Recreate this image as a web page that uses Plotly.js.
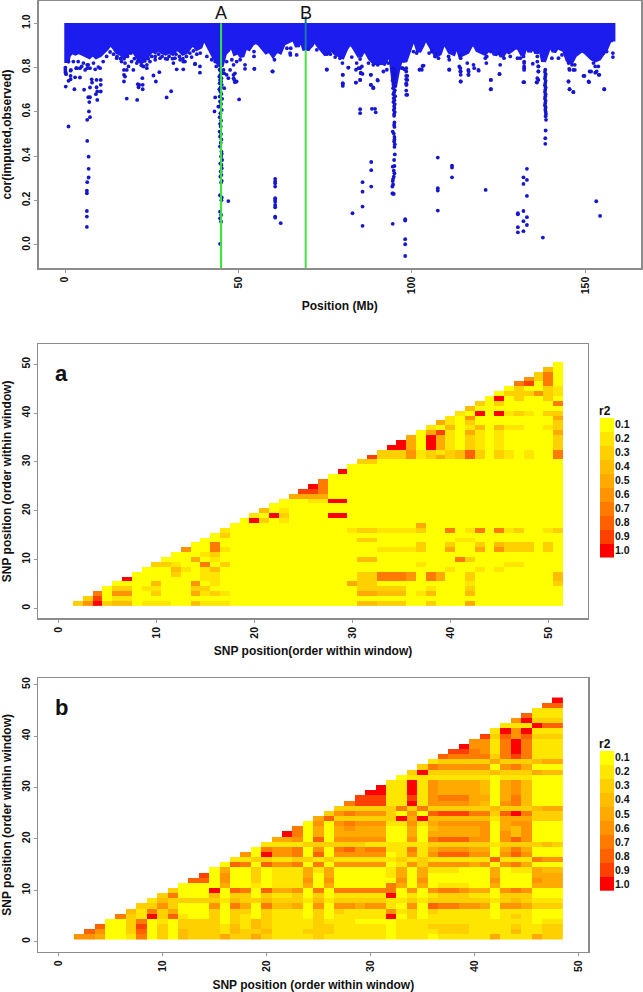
<!DOCTYPE html>
<html><head><meta charset="utf-8"><script src="https://cdn.plot.ly/plotly-3.0.1.min.js"></script>
<style>html,body{margin:0;padding:0;background:#fff}#p{width:643px;height:992px}</style></head><body><div id="p"></div>
<script>
// Top panel: lower edge of the solid blue band, one value per Mb (0..158)
const bandLow=[.82,.857,.872,.865,.872,.865,.857,.85,.865,.85,.857,.872,.887,.91,.895,.872,.865,.85,.865,.895,.872,.85,.827,.842,.865,.88,.872,.887,.872,.865,.872,.865,.887,.88,.865,.872,.895,.91,.887,.895,.94,.91,.872,.85,.827,.805,.865,.88,.91,.865,.872,.85,.895,.887,.91,.917,.91,.887,.872,.88,.857,.88,.872,.91,.917,.925,.932,.895,.94,.887,.887,.902,.932,.902,.887,.865,.872,.887,.865,.857,.85,.887,.91,.902,.872,.85,.88,.872,.842,.827,.82,.827,.82,.85,.85,.714,.797,.85,.827,.865,.917,.925,.872,.902,.94,.91,.88,.857,.865,.91,.902,.872,.865,.91,.857,.865,.872,.902,.91,.88,.872,.865,.88,.91,.857,.88,.85,.88,.872,.887,.895,.887,.857,.917,.872,.902,.865,.902,.827,.872,.91,.872,.895,.887,.88,.835,.827,.857,.872,.88,.872,.857,.842,.835,.842,.865,.887,.925,.925];
const bandStart=.5;
const bandEnd=158;
const bandEndLow=.917;
const bandTop=.99;
// Top panel: speckle just under the band
const fringeX=[1.7,1,2.4,3.8,5.3,6.7,8.2,9.6,11,3.4,4.8,5.8,7.2,8.7,10.1,14.9,16.3,17.3,18.3,19.2,20.7,22.6,23.6,24.5,26,27.4,29.5,31.7,33.2,34.6,36.5,37.5,40.9,42.3,43.6,43.3,46.6,48.1,48.6,49.5,51.9,50.5,47.6,46.6,49,48.6,49.5,.1,.1,.1,
12,13,14,15,16,17,18,19,20,21,22,23,24,25,26,27,28,29,30,31,32,33,34,35,36,37,38,39,
54.5,54.5,54.6,59.9,60.4,64,64.9,65.1,66.8,65,70.2,72.6,75.5,76.5,77.4,77.9,79.3,80,75.5,82.7,84.1,85.1,85.6,81.7,83.9,84.6,85.3,87.5,88.9,90.2,88.2,91.8,92.8,93.2,90.2,85.1,83.9,88.2,88.9,80.1,80.1,97.1,97.9,98.7,98.7,98.5,98.7,102.9,102.2,103.4,101.4,100.5,105,105.8,
106.7,107.7,105.8,107.2,110.6,110.8,110.8,113.9,114.1,113.7,114.1,114.1,114.1,116.4,116.4,116,117.8,118,119.3,121.2,121.5,121.6,122.8,122.8,122.8,125.3,125.5,125.3,126.6,128.4,130.5,131.3,132.2,132.4,132.4,132.4,132.4,134.9,136.2,136.2,136.5,136.5,136.2,136,142.3,140.4,143.3,145.2,146.2,145.5,147,145.2,145.5,146.6,149.8,151,151.7,152.4,152.9,153.8,153.3,153.9,155.5,155.3,156.2,158,158];
const fringeY=[.789,.827,.827,.827,.82,.812,.82,.802,.827,.797,.805,.789,.797,.792,.797,.842,.827,.82,.805,.827,.82,.805,.812,.827,.835,.842,.838,.842,.835,.827,.847,.817,.85,.835,.805,.827,.827,.835,.812,.827,.812,.835,.789,.767,.774,.752,.737,.80,.79,.78,
.85,.87,.86,.85,.84,.84,.85,.865,.84,.83,.81,.83,.84,.85,.85,.86,.85,.84,.85,.84,.86,.85,.84,.85,.865,.875,.86,.865,
.872,.85,.794,.782,.835,.887,.865,.887,.857,.857,.883,.88,.86,.86,.872,.847,.842,.82,.79,.847,.82,.838,.805,.8,.79,.797,.774,.82,.812,.812,.767,.782,.79,.82,.741,.744,.732,.722,.707,.767,.726,.797,.792,.762,.744,.722,.677,.79,.79,.809,.865,.872,.865,.872,
.85,.842,.88,.865,.85,.835,.789,.857,.842,.805,.782,.767,.737,.782,.767,.82,.812,.797,.786,.842,.82,.85,.872,.744,.702,.865,.812,.77,.842,.85,.842,.842,.85,.827,.805,.789,.734,.817,.85,.827,.805,.782,.752,.734,.842,.842,.857,.82,.812,.789,.789,.737,.702,.69,.762,.737,.782,.82,.805,.805,.782,.767,.702,.865,.872,.865,.847];
// Top panel: individual points far below the band
const ptX=[.2,.3,.2,1,1,1.6,1.6,2.9,2.7,4.3,5.5,1.6,3.2,4.3,6.4,6.4,7.7,7.8,7.2,9.1,10.3,10.3,9.1,9.3,10.3,8.9,9.3,6.7,7.2,7,6.9,7.2,6.4,6.4,6.8,6.8,6.8,6.4,6.3,6.3,6.3,6.3,6.3,
17,17.3,17,17,17.8,20.8,21,21.4,22.4,22.4,21.2,22.3,25.5,26.2,27.2,29.3,30.6,32.2,34.1,38.9,38.9,37.5,19.7,23.6,31.25,34.1,17.8,22.6,
44.6,45,45.2,44.8,44.5,45.1,44.7,45,44.6,45.2,44.9,44.5,44.8,45.1,44.6,45.3,44.7,45,44.5,45.2,44.8,44.6,45,44.7,44.9,44.6,45,44.7,45.1,44.9,44.7,45.1,45.2,45,45.3,44.8,45.1,45.2,44.9,45.1,44.8,45.2,45,44.7,45.2,45.1,44.7,45,44.7,45,44.7,
43.3,43.1,44.2,47.1,50.2,48.8,49,51.9,54.6,59.8,45.9,47.1,45.7,45.9,48.6,
60.6,60.6,60.6,60.6,60.6,60.6,60.6,60.6,60.6,60.6,60.6,62.2,
75.5,80.1,80.1,80.1,81.7,83.9,85.1,85.1,85.3,85.8,85.1,85.1,88.2,88.2,88.9,90.1,88.5,89.4,89.6,85.8,85.8,85.8,85.8,82.9,88.3,88.3,88.3,
94.6,95,94.7,95.2,94.8,95.1,94.5,95,94.8,95.2,94.6,95.1,94.9,94.7,95.2,94.8,95,94.7,95.1,94.9,95,94.8,95.1,94.9,
94.9,95,94.9,95,94.5,94.8,95,95,94.9,95.1,95,95.1,94.9,95,94.5,94.8,95,94.8,94.6,94.5,94.6,94.4,94.6,94.4,94.8,
94.5,98.1,98.1,98.1,98.1,98.1,98.4,98.4,98.4,98.4,98.4,98.4,98.4,98.4,97.4,102.4,103.1,
110.8,107.5,107.5,107.5,107.5,111.6,111.6,111.6,121.3,114.1,114,114,116.3,116.3,119.2,122.8,122.8,125.3,
130.6,130.6,130.6,130.6,132.2,132.4,132.4,133.2,132.2,133.2,132.2,133.2,132.2,133.2,132.2,133.2,132.2,137.8,
138.5,138.4,138.6,138.5,138.4,138.6,138.5,138.4,138.6,138.5,138.4,138.6,138.5,138.4,138.6,138.5,138.4,138.6,138.5,138.6,138.7,138.6,138.7,138.6,138.5,138.5,
136.5,136.1,136.5,136.5,145.2,145.5,146.6,145.4,146.6,147,149.5,151.1,151.3,152.9,154.1,155.5,153.2,154.3];
const ptY=[.777,.77,.714,.534,.74,.762,.747,.756,.702,.755,.70,.786,.797,.797,.797,.812,.747,.732,.71,.744,.744,.722,.711,.692,.692,.68,.654,.666,.666,.644,.602,.576,.564,.469,.398,.343,.304,.283,.245,.233,.153,.128,.081,
.767,.759,.737,.789,.66,.654,.725,.722,.722,.702,.711,.752,.764,.737,.779,.665,.693,.792,.792,.805,.777,.815,.789,.797,.82,.827,.789,.805,
.79,.782,.774,.767,.759,.752,.744,.737,.729,.722,.711,.702,.692,.681,.669,.659,.647,.636,.624,.609,.594,.576,.561,.546,.534,.511,.5,.488,.476,.461,.444,.421,.411,.399,.383,.368,.361,.346,.331,.316,.308,.289,.281,.224,.214,.202,.15,.135,.12,.105,.005,
.665,.602,.624,.198,.656,.744,.734,.794,.794,.783,.707,.752,.789,.774,.767,
.298,.286,.278,.263,.211,.203,.195,.18,.17,.128,.123,.098,
.792,.767,.729,.717,.8,.732,.744,.797,.777,.771,.612,.594,.767,.722,.71,.744,.614,.614,.598,.283,.24,.173,.086,.143,.374,.337,.263,
.797,.788,.779,.770,.761,.752,.743,.734,.725,.716,.707,.698,.689,.680,.671,.662,.653,.644,.635,.626,.617,.608,.599,.590,
.582,.552,.541,.532,.511,.502,.487,.476,.466,.454,.442,.408,.383,.356,.353,.335,.323,.308,.297,.288,.273,.263,.232,.232,.23,
.095,.116,.11,.026,.003,-.05,.797,.782,.762,.747,.729,.722,.696,.677,.797,.792,.807,
.792,.394,.256,.245,.155,.358,.349,.305,.248,.737,.797,.782,.767,.789,.789,.744,.702,.771,
.143,.138,.08,.057,.734,.797,.82,.343,.305,.293,.275,.221,.153,.125,.107,.09,.062,.033,
.79,.78,.77,.76,.75,.74,.73,.72,.71,.70,.69,.68,.67,.66,.65,.64,.63,.62,.61,.60,.59,.58,.564,.516,.481,.456,
.744,.732,.805,.782,.737,.702,.689,.794,.789,.812,.762,.734,.782,.777,.767,.702,.197,.131];
// Panel a: non-yellow cells, per row y: x,level,x,level...
const aN=51;
const aRowY=[1,2,3,4,5,6,7,8,9,10,11,12,13,14,15,16,17,18,19,20,22,23,24,25,26,28,30,31,32,33,34,35,36,37,38,39,40,41,42,43,44,45,46,47,48,49];
const aRowCells=[
[2,3,3,6,4,10,5,3,6,4,7,4,9,2,10,2,11,2,14,4,15,2,16,2,17,2,31,4,32,4,33,3,34,3,35,3,38,3,42,5],
[3,3,4,9,6,2,7,2],
[4,7,6,6,7,6,10,3,14,5,15,2,16,3,17,2,31,5,32,5,33,4,34,4,35,4,37,2,38,4,42,4],
[6,3,7,3,9,2,10,2,14,3,15,3,31,3,32,3,33,3,34,3,35,3,38,2,42,3],
[10,4,14,6,16,2,30,5,31,3,32,3,42,2,51,3],
[7,10,15,2,16,2,31,3,32,3,33,7,34,7,35,7,36,6,38,7,39,5,42,3,51,4],
[12,3,15,2,16,2,31,3,32,3,33,7,34,7,35,7,36,6,38,7,39,5,42,3,51,4],
[12,4,13,2,15,2,16,4,40,2,43,2,45,2],
[10,3,11,3,12,2,15,7,17,3,37,2,46,2,47,2],
[14,5,16,2,31,4,32,4,41,7,42,3],
[15,2,16,3],
[13,6,16,7,17,2,33,2,34,2,35,2,36,2,37,3,40,5,43,5,45,6,46,3,47,3,48,3,50,3],
[16,7,37,3,40,3,43,3,45,4,46,3,47,3,48,3,50,3],
[31,3,32,3,41,2,42,2],
[17,3],
[17,2,30,2,31,3,32,3,33,2,34,2,35,2,36,2,37,3,40,7,42,2,43,7,45,7,46,2,47,3,50,2,51,3],
[37,5],
[20,10,21,3,23,2],
[20,2,22,10,23,3,28,10,29,10],
[21,4,23,2],
[26,2,27,2,28,10,29,10],
[24,5,25,5,26,5,27,5],
[25,9,26,9,27,7],
[26,10,27,7],
[27,7],
[29,10],
[31,3,32,3],
[32,9,33,3,34,3,35,3,36,6,37,2,38,3,39,5,40,3,41,4,42,8,43,3,45,3,46,2,48,2,51,7],
[33,3,34,3,35,3,36,6,37,2,38,3,39,2,40,3,41,4,42,8,43,3,45,3,46,2,48,2,51,7],
[34,10,35,10,36,5,38,10,39,5,40,2,42,3,43,2,45,2,51,3],
[35,10,36,5,38,10,39,5,40,2,42,3,43,2,45,2,51,3],
[36,5,38,10,39,5,40,2,42,3,43,2,45,2,51,3],
[38,5,39,9,40,2,42,5,43,2,45,2,51,5],
[38,2,40,4,42,2,43,4,45,4,46,2,47,2,50,2,51,3],
[39,5,40,2,42,3,51,3],
[40,2,42,6,51,5],
[41,2,43,10,45,10,46,2,47,3,48,2,50,3,51,3],
[42,4],
[43,3,45,3,51,7],
[45,10,47,3,50,3],
[46,3,47,3,48,3,49,6,50,3,51,2],
[47,3,50,3,51,2],
[47,7,48,9,50,7],
[48,6,49,3,50,7],
[49,3,50,7],
[50,4]];
// Panel b: level per cell; row k (y = k) holds x = k+1 .. 48
const bN=48;
const bRows=[
[6,6,5,1,1,2,7,1, 3,1,4,3,3,3,5,3,3,5, 3,2,2,2,2,3,2,2,2,2, 2,2,1,2,2,2,1,2,2,2, 2,2,5,2,2,2,5,3,3],
[8,6,1,1,3,8,1, 3,1,4,3,3,3,2,4,3,3, 4,2,2,2,3,3,3,2,2,2, 2,2,1,2,2,2,2,3,3,3, 2,2,2,2,4,2,2,3,3],
[8,1,1,3,9,1, 3,1,3,3,3,3,2,4,2,4, 3,2,2,2,2,3,3,2,2,2, 2,2,1,2,2,2,3,3,3,3, 2,2,2,2,3,2,2,3,3],
[1,1,3,7,1, 2,1,3,3,3,3,1,3,2,4, 3,2,2,2,2,3,2,2,2,1, 1,1,1,2,2,2,2,2,2,2, 2,2,2,2,2,2,1,2,2],
[7,3,2,10, 3,8,2,1,1,3,1,3,2,1, 3,2,2,2,1,3,1,2,2,2, 2,2,10,1,3,1,2,2,2,2, 2,2,1,2,3,2,1,1,1],
[4,2,7, 3,5,1,1,1,3,1,3,3,1, 3,2,2,2,1,3,1,3,2,2, 2,2,6,2,3,1,3,2,2,2, 2,2,1,2,2,2,1,1,1],
[3,3, 6,3,1,1,1,6,1,7,5,1, 7,4,4,5,1,6,1,6,6,5, 6,6,2,1,6,1,8,7,7,6, 6,5,1,6,6,5,3,3,3],
[2, 4,3,3,3,3,3,2,4,3,3, 4,3,3,3,2,4,2,3,3,3, 3,3,2,2,3,2,3,3,3,3, 3,3,2,3,4,3,2,2,2],
[3,7,1,1,1,4,1,3,3,1, 3,2,2,3,1,3,1,2,2,2, 2,2,10,1,2,1,2,3,3,3, 2,2,1,3,3,3,1,1,1],
[3,1,1,1,10,1,8,7,1, 8,5,5,6,1,7,1,7,7,7, 7,7,7,1,6,1,6,7,7,6, 5,5,1,6,7,6,1,1,1],
[1,1,1,1,5,1,1,2, 1,2,2,2,5,1,5,1,1,1, 1,1,7,5,1,5,1,2,2,2, 1,1,5,1,1,1,5,5,5],
[8,8,1,6,1,1,3, 1,2,2,2,6,1,6,1,1,1, 1,1,1,6,1,6,1,1,1,1, 1,1,6,1,1,1,6,5,5],
[9,1,6,1,1,3, 1,2,2,2,5,1,5,1,1,1, 1,1,2,5,1,5,1,1,1,1, 1,1,5,1,1,1,5,5,5],
[1,5,1,1,3, 1,2,2,2,5,2,5,1,1,1, 1,1,2,5,1,5,2,2,2,1, 1,1,5,1,2,2,5,4,4],
[1,8,7,1, 8,6,6,7,1,7,1,6,6,6, 6,6,1,2,6,3,6,6,6,6, 5,6,1,6,7,5,1,1,1],
[2,2,3, 3,2,2,3,3,2,3,2,2,2, 2,2,2,3,2,3,2,2,2,2, 2,2,8,2,2,2,7,6,6],
[6,1, 10,6,6,7,1,8,1,6,6,6, 6,6,1,2,6,2,6,8,8,8, 6,6,1,6,8,6,1,1,1],
[1, 7,6,6,7,1,6,1,7,8,6, 7,7,2,2,7,2,5,6,6,6, 5,5,1,5,7,5,1,1,1],
[2,2,2,2,3,3,3,3,3,3, 2,2,2,2,2,2,3,3,3,3, 3,3,2,3,3,3,3,4,3],
[5,5,6,1,8,1,6,6,6, 6,6,1,1,6,1,7,8,8,8, 6,6,1,6,8,6,1,1,1],
[10,7,1,5,1,5,5,5, 5,5,1,1,5,1,5,5,5,5, 5,6,1,6,4,6,1,1,1],
[7,1,5,1,5,6,5, 5,5,1,1,5,1,4,5,5,5, 5,6,1,5,4,6,1,1,1],
[1,6,1,6,7,6, 6,6,2,2,6,2,5,6,6,6, 6,6,1,5,6,6,1,1,1],
[5,8,3,3,3, 3,3,3,10,5,10,4,4,4,4, 4,4,2,5,5,5,3,3,3],
[3,6,7,6, 6,6,3,1,6,1,8,9,9,9, 7,7,3,8,10,7,3,3,3],
[3,3,3, 3,3,3,7,3,7,3,3,3,3, 3,3,4,3,3,3,4,5,5],
[7,9, 9,9,2,2,10,2,6,6,6,6, 5,4,1,6,7,4,1,1,1],
[9, 9,9,2,2,9,2,6,7,7,7, 5,5,1,5,7,4,1,1,1],
[10,10,2,2,10,2,6,5,5,5, 5,4,1,5,6,4,1,1,1],
[10,2,2,10,2,6,5,5,5, 5,4,1,5,6,4,1,1,1],
[2,2,10,2,6,5,5,5, 5,4,1,5,6,4,1,1,1],
[1,2,2,2,2,2,2, 2,2,1,2,2,2,1,1,1],
[3,10,3,3,3,3, 3,3,4,3,3,3,5,4,4],
[3,7,6,6,6, 6,6,1,6,7,5,1,1,1],
[2,3,3,3, 3,3,5,3,3,3,4,5,5],
[8,7,7, 7,7,3,7,9,7,2,2,2],
[9,9, 7,6,2,7,10,7,2,2,2],
[10, 6,6,2,7,10,7,2,2,2],
[6,6,2,7,10,7,2,2,2],
[9,3,8,6,8,3,3,3],
[2,10,6,10,2,2,2],
[2,2,2,10,8,8],
[6,10,3,3,3],
[8,2,2,2],
[2,2,2],
[8,8],
[10]];
// Legend
const levels=[1,2,3,4,5,6,7,8,9,10];
const levelLabels=['0.1','0.2','0.3','0.4','0.5','0.6','0.7','0.8','0.9','1.0'];
const levelColors=['#FFFF00','#FFE600','#FFD000','#FFBD00','#FFAA00','#FF9300','#FF7A00','#FF6000','#FF4000','#FF0000'];
const lineA=45, lineB=69.4;

const W=643,H=992;
const dx=(a,b)=>[a/W,b/W], dy=(t,b)=>[1-b/H,1-t/H];
const band={x:[],y:[]};
bandLow.forEach((v,i)=>{band.x.push(Math.max(i,bandStart));band.y.push(v)});
band.x.push(bandEnd,bandEnd,bandStart,bandStart);band.y.push(bandEndLow,bandTop,bandTop,bandLow[0]);
const scale=[];levelColors.forEach((c,i)=>{scale.push([i/10,c]);scale.push([(i+1)/10,c]);});
function triangle(n,fill){const z=[],x=[],y=[];for(let i=1;i<n;i++)y.push(i);for(let j=2;j<=n;j++)x.push(j);
 for(let i=1;i<n;i++){const r=[];for(let j=2;j<=n;j++)r.push(fill(i,j));z.push(r)}return{x,y,z}}
const aMap={};aRowY.forEach((y,k)=>{const c=aRowCells[k];for(let i=0;i<c.length;i+=2)aMap[y+'_'+c[i]]=c[i+1]});
const aGrid=triangle(aN,(i,j)=>j>i?(aMap[i+'_'+j]||1):null);
const bGrid=triangle(bN,(i,j)=>j>i?(bRows[i-1][j-i-1]??null):null);
const hm=(g,xa,ya)=>({type:'heatmap',x:g.x,y:g.y,z:g.z,xaxis:xa,yaxis:ya,colorscale:scale,zmin:.5,zmax:10.5,showscale:false,hoverongaps:false});
const legZ=levels.map(v=>[v]);
const leg=(xa,ya)=>({type:'heatmap',x:[0],y:levels,z:legZ,xaxis:xa,yaxis:ya,colorscale:scale,zmin:.5,zmax:10.5,showscale:false});
const data=[
 {type:'scatter',mode:'lines',x:band.x,y:band.y,fill:'toself',fillcolor:'#1c1cee',line:{color:'#1c1cee',width:5,shape:'linear'},xaxis:'x',yaxis:'y'},
 {type:'scatter',mode:'markers',x:fringeX,y:fringeY,marker:{color:'#1818dc',size:3.8},xaxis:'x',yaxis:'y'},
 {type:'scatter',mode:'markers',x:ptX,y:ptY,marker:{color:'#1616d0',size:3.8},xaxis:'x',yaxis:'y'},
 hm(aGrid,'x2','y2'),hm(bGrid,'x3','y3'),leg('x4','y4'),leg('x5','y5')];
const tf={family:'Liberation Sans, Arial, sans-serif',size:10.5,color:'#111'};
const bold=s=>'<b>'+s+'</b>';
const base={showgrid:false,zeroline:false,showline:true,linecolor:'#8c8c8c',linewidth:1.5,mirror:true,ticks:'outside',ticklen:3,tickcolor:'#999',tickwidth:1,tickangle:-90,tickfont:tf};
const ttl=(s,st)=>({text:bold(s),standoff:st,font:{family:tf.family,size:12,color:'#111'}});
const mk=(s,x,y,size,xr)=>({xref:xr||'paper',yref:'paper',x:xr?x:x/W,y:1-y/H,text:s,showarrow:false,xanchor:'center',yanchor:'middle',font:{family:tf.family,size:size,color:'#111'}});
const layout={width:W,height:H,margin:{l:0,r:0,t:0,b:0},paper_bgcolor:'#fff',plot_bgcolor:'#fff',showlegend:false,
 xaxis:{...base,domain:dx(38.5,641),range:[-7.65,166.1],tickvals:[0,50,100,150],ticktext:[0,50,100,150].map(bold),title:ttl('Position (Mb)',8),anchor:'y'},
 yaxis:{...base,domain:dy(1,268),range:[-.104,1.1],tickvals:[0,.2,.4,.6,.8,1],ticktext:['0.0','0.2','0.4','0.6','0.8','1.0'].map(bold),title:ttl('cor(imputed,observed)',6),anchor:'x'},
 xaxis2:{...base,domain:dx(38.3,587.7),range:[-2.04,54.02],tickvals:[0,10,20,30,40,50],ticktext:[0,10,20,30,40,50].map(bold),title:ttl('SNP position(order within window)',9),anchor:'y2'},
 yaxis2:{...base,domain:dy(344.3,618.3),range:[-2.05,54.1],tickvals:[0,10,20,30,40,50],ticktext:[0,10,20,30,40,50].map(bold),title:ttl('SNP position (order within window)',6),anchor:'x2'},
 xaxis3:{...base,domain:dx(38.3,588.3),range:[-1.92,50.95],tickvals:[0,10,20,30,40,50],ticktext:[0,10,20,30,40,50].map(bold),title:ttl('SNP position (order within window)',10),anchor:'y3'},
 yaxis3:{...base,domain:dy(678,951.7),range:[-1.95,51.3],tickvals:[0,10,20,30,40,50],ticktext:[0,10,20,30,40,50].map(bold),title:ttl('SNP position (order within window)',7),anchor:'x3'},
 xaxis4:{domain:dx(600,614),visible:false,anchor:'y4'},
 yaxis4:{domain:dy(417.7,557.7),range:[10.5,.5],side:'right',anchor:'x4',showgrid:false,zeroline:false,showline:false,ticks:'',tickvals:levels,ticktext:levelLabels.map(bold),tickfont:tf},
 xaxis5:{domain:dx(600,614),visible:false,anchor:'y5'},
 yaxis5:{domain:dy(750.7,891),range:[10.5,.5],side:'right',anchor:'x5',showgrid:false,zeroline:false,showline:false,ticks:'',tickvals:levels,ticktext:levelLabels.map(bold),tickfont:tf},
 shapes:[
  {type:'line',xref:'x',yref:'y',x0:lineA,x1:lineA,y0:-.104,y1:1.0,line:{color:'#33e833',width:2}},
  {type:'line',xref:'x',yref:'y',x0:lineB,x1:lineB,y0:-.104,y1:.88,line:{color:'#44e044',width:2}},
  {type:'line',xref:'x',yref:'y',x0:lineB,x1:lineB,y0:.88,y1:1.03,line:{color:'#1878a8',width:2}}],
 annotations:[mk('A',lineA,13.5,18,'x'),mk('B',lineB,13.5,18,'x'),mk(bold('a'),62,373,22),mk(bold('b'),62,707,22),mk(bold('r2'),605,411,12),mk(bold('r2'),605,744,12)]
};
Plotly.newPlot('p',data,layout,{displayModeBar:false,staticPlot:true});
</script></body></html>
